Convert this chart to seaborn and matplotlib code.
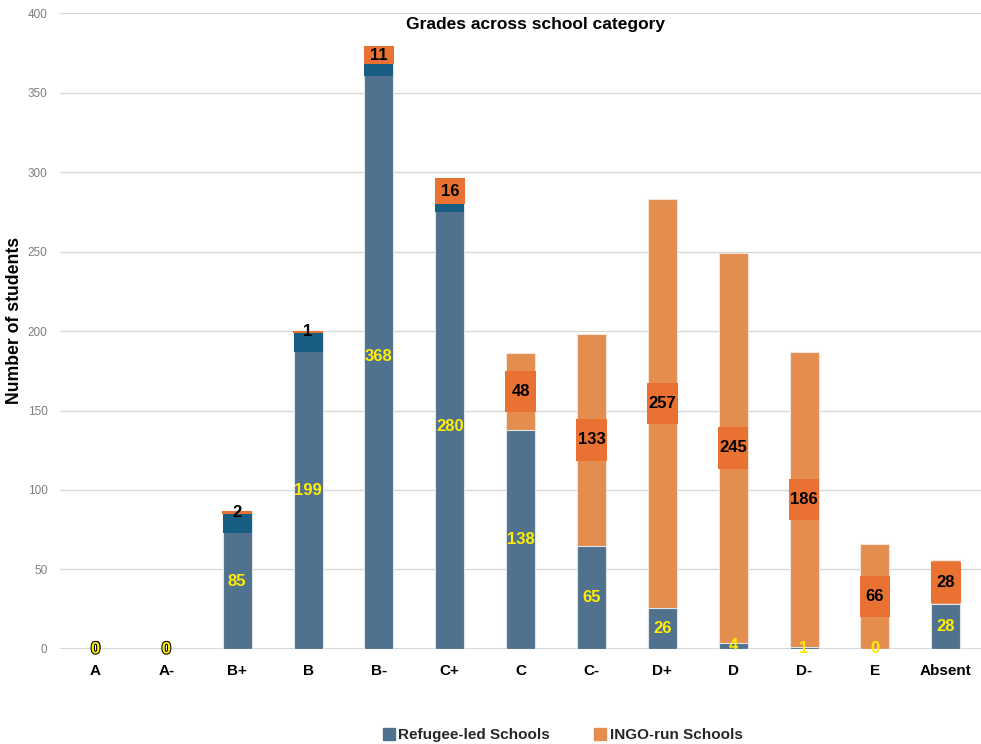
import numpy as np
import pandas as pd
import matplotlib
matplotlib.use("Agg")
import matplotlib.pyplot as plt
import matplotlib.patheffects as pe
from matplotlib.lines import Line2D
import seaborn as sns

grades = ["A", "A-", "B+", "B", "B-", "C+", "C", "C-", "D+", "D", "D-", "E", "Absent"]
refugee_led = [0, 0, 85, 199, 368, 280, 138, 65, 26, 4, 1, 0, 28]
ingo_run = [0, 0, 2, 1, 11, 16, 48, 133, 257, 245, 186, 66, 28]

BLUE = "#50728f"
ORANGE = "#e38d4f"
DARK_BLUE = "#175e82"
DARK_ORANGE = "#e97232"

sns.set_theme(style="white")
plt.rcParams["font.family"] = ["Liberation Sans", "DejaVu Sans"]

df = pd.DataFrame({"grade": grades, "refugee": refugee_led, "ingo": ingo_run})
df["total"] = df["refugee"] + df["ingo"]

fig = plt.figure(figsize=(9.81, 7.44), dpi=100)
ax = fig.add_axes([0.0612, 0.1277, 0.939, 0.8548])

bw = 0.41
sns.barplot(data=df, x="grade", y="total", order=grades, color=ORANGE,
            width=bw, edgecolor="#f3e3d8", linewidth=0.8, saturation=1, ax=ax)
sns.barplot(data=df, x="grade", y="refugee", order=grades, color=BLUE,
            width=bw, edgecolor="#dfe5ea", linewidth=0.8, saturation=1, ax=ax)

# darker label-box highlight, clipped to the bar segments
half = 13
xs = np.arange(len(grades))
centre = df["refugee"] + df["ingo"] / 2
lo = centre - half
hi = centre + half
b_lo = np.maximum(lo, 0)
b_hi = np.minimum(hi, df["refugee"])
o_lo = np.maximum(lo, df["refugee"])
o_hi = np.minimum(hi, df["total"])
mb = (b_hi > b_lo) & (df["ingo"] > 0)
mo = o_hi > o_lo
ax.bar(xs[mb], (b_hi - b_lo)[mb], bottom=b_lo[mb], width=bw, color=DARK_BLUE, linewidth=0)
ax.bar(xs[mo], (o_hi - o_lo)[mo], bottom=o_lo[mo], width=bw + 0.02, color=DARK_ORANGE, linewidth=0)

# labels
for i, row in df.iterrows():
    ax.text(i, row["refugee"] + row["ingo"] / 2, str(row["ingo"]), ha="center", va="center",
            fontsize=12, fontweight="bold", color="black", zorder=5)
    fx = []
    if row["total"] == 0:
        fx = [pe.withStroke(linewidth=1.5, foreground="black")]
    ax.text(i, row["refugee"] / 2, str(row["refugee"]), ha="center", va="center",
            fontsize=12, fontweight="bold", color="#ffee00", zorder=6, path_effects=fx)

ax.set_xlim(-0.5, len(grades) - 0.5)
ax.set_ylim(0, 400)
ax.set_yticks(range(0, 401, 50))
ax.yaxis.grid(True, color="#d9d9d9", linewidth=1)
ax.set_axisbelow(True)
sns.despine(ax=ax, left=True, top=True, right=True, bottom=True)
ax.axhline(0, color="#d0d0d0", linewidth=1.2, zorder=0.5)
ax.tick_params(axis="y", labelsize=8.5, labelcolor="#7f7f7f", length=0, pad=9)
ax.tick_params(axis="x", labelsize=11, length=0, pad=11)
for t in ax.get_xticklabels():
    t.set_fontweight("bold")
    t.set_color("black")
ax.set_xlabel("")
ax.set_ylabel("")

fig.text(15 / 981, 1 - 320 / 744, "Number of students", rotation=90, ha="center", va="center",
         fontsize=12.7, fontweight="bold", color="black")
fig.text(536 / 981, 1 - 25 / 744, "Grades across school category", ha="center", va="center",
         fontsize=12.5, fontweight="bold", color="black")

handles = [
    Line2D([], [], marker="s", linestyle="none", markersize=8, color=BLUE, label="Refugee-led Schools"),
    Line2D([], [], marker="s", linestyle="none", markersize=8, color=ORANGE, label="INGO-run Schools"),
]
leg = fig.legend(handles=handles, loc="center", bbox_to_anchor=(562 / 981, 1 - 735 / 744), ncol=2,
                 frameon=False, fontsize=11, handletextpad=0.1, columnspacing=2.8, handlelength=1)
for t in leg.get_texts():
    t.set_fontweight("bold")

fig.savefig("out.png", dpi=100)
